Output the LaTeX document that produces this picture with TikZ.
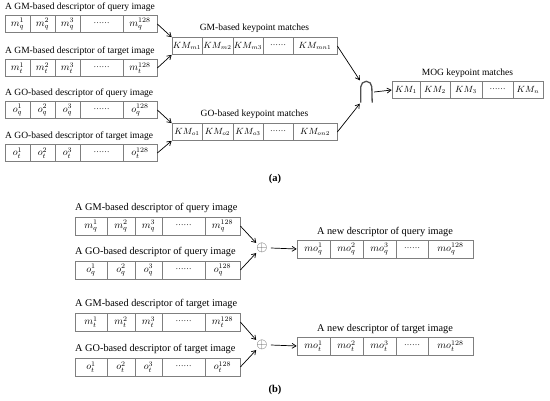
\documentclass[tikz,border=0pt]{standalone}
\usepackage{fontspec}
\setmainfont{Liberation Serif}
\usetikzlibrary{arrows.meta}
\definecolor{boxgray}{HTML}{7F7F7F}
\definecolor{capgray}{HTML}{505050}
\newcommand\dotsrow{\raisebox{0.3ex}{\fontsize{8}{8}\selectfont ……}}
\tikzset{
  cell/.style={draw=boxgray, line width=0.7pt, inner sep=0pt, minimum height=17pt},
  cella/.style={font=\fontsize{9.6}{10}\selectfont, minimum height=17pt},
  kma/.style={font=\fontsize{9}{10}\selectfont, minimum height=17pt},
  cellb/.style={font=\fontsize{10.4}{11}\selectfont, minimum height=18pt},
  laba/.style={inner sep=0pt, font=\fontsize{9.5}{11}\selectfont},
  labb/.style={inner sep=0pt, font=\fontsize{10.3}{12}\selectfont},
  arr/.style={-{Straight Barb[length=4pt,width=5pt]}, line width=0.7pt},
  capline/.style={draw=capgray, line width=1.3pt},
  oplusnode/.style={inner sep=0pt, text=capgray, font=\fontsize{15}{15}\selectfont},
  sublab/.style={inner sep=0pt, font=\fontsize{10.5}{12}\selectfont\bfseries}
}
\newcommand\drow[4]{%
  \foreach \xa/\xb/\txt [count=\i] in {#4}{%
    \node[cell,#3,minimum width={\xb-\xa}] (#1\i) at ({(\xa+\xb)/2},#2) {\txt};}}
\begin{document}
\begin{tikzpicture}[x=1pt,y=-1pt]
\useasboundingbox (0,0) rectangle (550,401);
% ---------------- (a) ----------------
\node[laba,anchor=west] (la1) at (5,7) {A GM-based descriptor of query image};
\drow{qmA}{24}{cella}{5/30/$m_q^1$, 30/55/$m_q^2$, 55/80/$m_q^3$, 80/123/\dotsrow, 123/157/$m_q^{128}$}
\node[laba,anchor=west] (la2) at (5,51) {A GM-based descriptor of target image};
\drow{tmA}{68}{cella}{5/30/$m_t^1$, 30/55/$m_t^2$, 55/80/$m_t^3$, 80/123/\dotsrow, 123/157/$m_t^{128}$}
\node[laba,anchor=west] (la3) at (5,93) {A GO-based descriptor of query image};
\drow{qoA}{110}{cella}{5/30/$o_q^1$, 30/55/$o_q^2$, 55/80/$o_q^3$, 80/123/\dotsrow, 123/157/$o_q^{128}$}
\node[laba,anchor=west] (la4) at (5,136) {A GO-based descriptor of target image};
\drow{toA}{153}{cella}{5/30/$o_t^1$, 30/55/$o_t^2$, 55/80/$o_t^3$, 80/123/\dotsrow, 123/157/$o_t^{128}$}

\node[laba] (lkm1) at (254.5,28) {GM-based keypoint matches};
\drow{kmA}{46}{kma}{172/202/$KM_{m1}$, 202/233/$KM_{m2}$, 233/263/$KM_{m3}$, 263/293/\dotsrow, 293/337/$KM_{mn1}$}
\node[laba] (lkm2) at (254.5,114) {GO-based keypoint matches};
\drow{kmB}{132}{kma}{172/202/$KM_{o1}$, 202/233/$KM_{o2}$, 233/263/$KM_{o3}$, 263/293/\dotsrow, 293/337/$KM_{on2}$}

\node[inner sep=0pt, minimum width=11pt, minimum height=21pt] (cap) at (366.5,92) {};
\draw[capline] (cap.south west) -- ([yshift=-5.5pt]cap.north west)
  arc[start angle=180,end angle=0,radius=5.5pt] -- (cap.south east);

\node[laba] (lmog) at (467.5,73) {MOG keypoint matches};
\drow{mog}{90}{kma}{392/420/$KM_1$, 420/450/$KM_2$, 450/482/$KM_3$, 482/513/\dotsrow, 513/543/$KM_n$}

\draw[arr] (qmA5.east) -- (kmA1.north west);
\draw[arr] (tmA5.east) -- (kmA1.south west);
\draw[arr] (qoA5.east) -- (kmB1.north west);
\draw[arr] (toA5.east) -- (kmB1.south west);
\draw[arr] (kmA5.east) -- ([xshift=-1pt,yshift=1pt]cap.north west);
\draw[arr] (kmB5.east) -- ([xshift=-1pt,yshift=-1pt]cap.south west);
\draw[arr] ([xshift=2pt]cap.east) -- (mog1.west);

\node[sublab] (suba) at (275,179) {(a)};

% ---------------- (b) ----------------
\node[labb,anchor=west] (lb1) at (75,208) {A GM-based descriptor of query image};
\drow{qmB}{226}{cellb}{75/107/$m_q^1$, 107/135/$m_q^2$, 135/162/$m_q^3$, 162/205/\dotsrow, 205/240/$m_q^{128}$}
\node[labb,anchor=west] (lb2) at (75,252) {A GO-based descriptor of query image};
\drow{qoB}{270}{cellb}{75/107/$o_q^1$, 107/135/$o_q^2$, 135/162/$o_q^3$, 162/205/\dotsrow, 205/240/$o_q^{128}$}
\node[labb,anchor=west] (lb3) at (75,304) {A GM-based descriptor of target image};
\drow{tmB}{322}{cellb}{75/107/$m_t^1$, 107/135/$m_t^2$, 135/162/$m_t^3$, 162/205/\dotsrow, 205/240/$m_t^{128}$}
\node[labb,anchor=west] (lb4) at (75,349) {A GO-based descriptor of target image};
\drow{toB}{367}{cellb}{75/107/$o_t^1$, 107/135/$o_t^2$, 135/162/$o_t^3$, 162/205/\dotsrow, 205/240/$o_t^{128}$}

\node[oplusnode] (op1) at (262,248) {$\oplus$};
\node[oplusnode] (op2) at (262,345) {$\oplus$};

\node[labb] (lnq) at (385,232) {A new descriptor of query image};
\drow{nq}{249}{cellb}{297/330/$mo_q^1$, 330/363/$mo_q^2$, 363/396/$mo_q^3$, 396/428/\dotsrow, 428/473/$mo_q^{128}$}
\node[labb] (lnt) at (385,329) {A new descriptor of target image};
\drow{nt}{346}{cellb}{297/330/$mo_t^1$, 330/363/$mo_t^2$, 363/396/$mo_t^3$, 396/428/\dotsrow, 428/473/$mo_t^{128}$}

\draw[arr] (qmB5.east) -- (op1.north west);
\draw[arr] (qoB5.east) -- (op1.south west);
\draw[arr] (tmB5.east) -- (op2.north west);
\draw[arr] (toB5.east) -- (op2.south west);
\draw[arr] ([xshift=3pt]op1.east) -- (nq1.west);
\draw[arr] ([xshift=3pt]op2.east) -- (nt1.west);

\node[sublab] (subb) at (275,390) {(b)};
\end{tikzpicture}
\end{document}
